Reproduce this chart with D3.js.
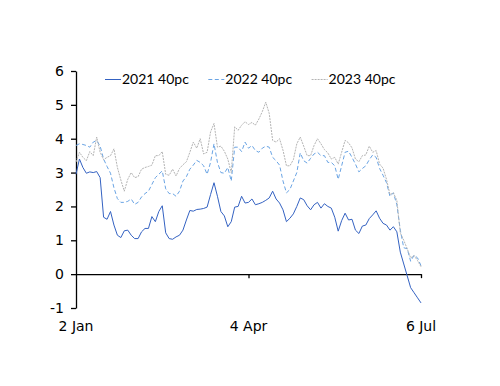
<!DOCTYPE html>
<html>
<head>
<meta charset="utf-8">
<script src="https://cdn.jsdelivr.net/npm/d3@7"></script>
<style>
	body { margin: 0; background: #fff; }
	.axis path, .axis line { stroke: #000; }
	.axis text { font-family: "DejaVu Sans", sans-serif; font-size: 14px; fill: #000; }
</style>
</head>
<body>
<div id="chart"></div>
<script>

// series, evenly spaced from 2 Jan to 6 Jul
var seriesNames = ["2021 40pc", "2022 40pc", "2023 40pc"];

var values2021 = [2.95,3.4,3.15,2.98,3.02,3.0,3.03,2.85,1.68,1.62,
	1.85,1.45,1.15,1.08,1.28,1.3,1.15,1.05,1.05,1.25,
	1.35,1.35,1.7,1.55,1.85,2.02,1.22,1.05,1.03,1.1,
	1.15,1.3,1.6,1.88,1.86,1.91,1.92,1.94,1.98,2.35,
	2.7,2.3,1.85,1.72,1.4,1.55,1.98,2.0,2.3,2.1,
	2.12,2.22,2.05,2.08,2.12,2.18,2.25,2.45,2.22,2.1,
	1.9,1.55,1.65,1.78,2.0,2.25,2.2,2.02,1.9,2.05,
	2.12,1.95,2.08,2.0,1.95,1.68,1.27,1.58,1.8,1.6,
	1.62,1.3,1.2,1.42,1.45,1.64,1.75,1.87,1.65,1.5,
	1.45,1.3,1.4,1.25,0.65,0.3,-0.05,-0.4,-0.55,-0.7,
	-0.85];

var values2022 = [3.8,3.85,3.83,3.8,3.75,3.9,3.95,3.78,3.4,3.18,
	2.98,2.55,2.23,2.12,2.12,2.15,2.22,2.06,2.12,2.28,
	2.38,2.45,2.65,2.85,2.95,3.05,2.52,2.38,2.38,2.3,
	2.45,2.75,2.88,3.1,3.22,3.36,3.3,3.2,2.95,3.3,
	3.85,3.3,3.0,2.98,3.15,2.75,3.75,3.75,3.62,3.9,
	3.72,3.8,3.65,3.6,3.72,3.78,3.75,3.45,3.35,3.22,
	2.75,2.4,2.5,2.75,3.0,3.58,3.35,3.28,3.42,3.55,
	3.6,3.5,3.5,3.3,3.3,3.2,2.8,3.2,3.6,3.63,
	3.45,3.25,3.02,3.12,3.2,3.38,3.52,3.45,3.12,2.92,
	2.7,2.3,2.4,2.05,1.3,0.78,0.75,0.38,0.56,0.48,
	0.25];

var values2023 = [3.31,3.6,3.45,3.35,3.62,3.5,4.05,3.6,3.38,3.45,
	3.5,3.7,3.15,2.78,2.45,2.8,3.0,2.85,2.88,3.1,
	3.15,3.18,3.22,3.5,3.5,3.62,2.95,2.92,3.1,2.9,
	3.12,3.23,3.32,3.6,3.9,3.72,4.0,3.55,3.6,4.2,
	4.45,3.75,3.78,3.63,3.4,3.0,4.35,4.25,4.4,4.5,
	4.42,4.48,4.4,4.58,4.8,5.08,4.75,3.95,3.9,4.0,
	3.66,3.2,3.2,3.38,3.85,4.05,3.78,3.5,3.5,3.8,
	4.0,3.85,3.68,3.58,3.4,3.45,3.25,3.6,3.95,3.88,
	3.73,3.4,3.32,3.5,3.52,3.78,3.6,3.65,3.25,3.13,
	2.8,2.35,2.4,2.18,1.22,1.0,0.75,0.48,0.55,0.4,
	0.22];

var xTickLabels = ["2 Jan", "4 Apr", "6 Jul"];
var xTickIndex = [0, 50, 100];
var yTicks = [-1, 0, 1, 2, 3, 4, 5, 6];

LineChart = function(_parentElement) {
	this.parentElement = _parentElement;
	this.series = [values2021, values2022, values2023];
	this.initVis();
}

LineChart.prototype.initVis = function() {
	var vis = this;

	vis.margin = { top: 71, right: 79, bottom: 78, left: 76 };
	vis.width = 500 - vis.margin.left - vis.margin.right;
	vis.height = 386 - vis.margin.top - vis.margin.bottom;

	vis.svg = d3.select("#" + vis.parentElement).append("svg")
		.attr("width", 500)
		.attr("height", 386)
		.append("g")
		.attr("transform", "translate(" + vis.margin.left + "," + vis.margin.top + ")");

	vis.x = d3.scaleLinear().domain([0, values2021.length - 1]).range([0, vis.width]);
	vis.y = d3.scaleLinear().domain([-1, 6]).range([vis.height, 0]);

	vis.styles = [
		{ color: "#3462c2", dash: null },
		{ color: "#6aa4e4", dash: "4,2.5" },
		{ color: "#b4b4b4", dash: "2,1" }
	];

	vis.updateVis();
}

LineChart.prototype.updateVis = function() {
	var vis = this;

	var line = d3.line()
		.x((d, i) => vis.x(i))
		.y(d => vis.y(d));

	// y axis, plain hyphen for negatives
	vis.svg.append("g")
		.attr("class", "axis y-axis")
		.call(d3.axisLeft(vis.y).tickValues(yTicks).tickFormat(d => String(d))
			.tickSize(5).tickSizeOuter(0).tickPadding(7))
		.selectAll("path, line").attr("stroke-width", 1.3);

	// x axis sits on zero
	var xAxis = vis.svg.append("g")
		.attr("class", "axis x-axis")
		.attr("transform", "translate(0," + vis.y(0) + ")")
		.call(d3.axisBottom(vis.x).tickValues(xTickIndex.slice(1)).tickSize(4).tickSizeOuter(0).tickFormat(""));
	xAxis.selectAll("path, line").attr("stroke-width", 1.3);

	vis.svg.append("g")
		.attr("class", "axis")
		.selectAll("text")
		.data(xTickLabels)
		.enter().append("text")
		.attr("x", (d, i) => vis.x(xTickIndex[i]))
		.attr("y", vis.y(-1) + 23)
		.attr("text-anchor", "middle")
		.text(d => d);

	// lines
	vis.svg.selectAll(".series")
		.data(vis.series)
		.enter().append("path")
		.attr("class", "series")
		.attr("fill", "none")
		.attr("stroke", (d, i) => vis.styles[i].color)
		.attr("stroke-width", 1)
		.attr("stroke-dasharray", (d, i) => vis.styles[i].dash)
		.attr("d", line);

	// legend
	var legend = vis.svg.selectAll(".legend")
		.data(seriesNames)
		.enter().append("g")
		.attr("class", "legend")
		.attr("transform", (d, i) => "translate(" + (29 + i * 103.3) + "," + 8.5 + ")");

	legend.append("line")
		.attr("x1", 0).attr("x2", 16)
		.attr("stroke", (d, i) => vis.styles[i].color)
		.attr("stroke-dasharray", (d, i) => vis.styles[i].dash);

	legend.append("text")
		.attr("x", 17)
		.attr("dy", "0.35em")
		.style("font-family", "Lato, sans-serif")
		.style("font-size", "14px")
		.text(d => d);
}

new LineChart("chart");

</script>
</body>
</html>
